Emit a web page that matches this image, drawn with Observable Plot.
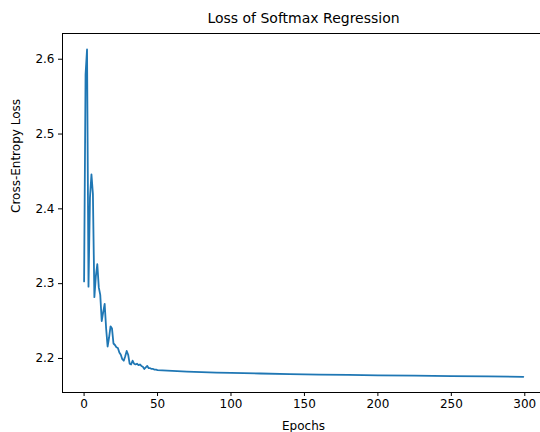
<!DOCTYPE html>
<html>
<head>
<meta charset="utf-8">
<script src="https://cdn.jsdelivr.net/npm/d3@7"></script>
<script src="https://cdn.jsdelivr.net/npm/@observablehq/plot@0.6"></script>
<style>
  html, body { margin: 0; padding: 0; background: #fff; }
  #chart svg { display: block; }
</style>
</head>
<body>
<div id="chart"></div>
<script>
const title = "Loss of Softmax Regression";
const xLabel = "Epochs";
const yLabel = "Cross-Entropy Loss";
const xTicks = [0, 50, 100, 150, 200, 250, 300];
const yTicks = [2.2, 2.3, 2.4, 2.5, 2.6];

const epochs = [
  0, 1, 2, 3, 4, 5, 6, 7, 8, 9,
  10, 11, 12, 13, 14, 15, 16, 17, 18, 19,
  20, 21, 22, 23, 24, 25, 26, 27, 28, 29,
  30, 31, 32, 33, 34, 35, 36, 37, 38, 39,
  40, 41, 42, 43, 44, 45, 46, 47, 48, 49,
  50, 60, 70, 80, 90, 100, 120, 140, 160, 180,
  200, 225, 250, 275, 299
];
const losses = [
  2.303, 2.580, 2.613, 2.296, 2.415, 2.446, 2.420, 2.282, 2.310, 2.326,
  2.295, 2.285, 2.250, 2.262, 2.273, 2.240, 2.216, 2.228, 2.243, 2.240,
  2.220, 2.218, 2.215, 2.214, 2.208, 2.205, 2.199, 2.197, 2.203, 2.210,
  2.205, 2.193, 2.192, 2.197, 2.193, 2.192, 2.193, 2.191, 2.192, 2.190,
  2.189, 2.186, 2.188, 2.190, 2.187, 2.187, 2.186, 2.186, 2.185, 2.185,
  2.1845, 2.1833, 2.1824, 2.1817, 2.1812, 2.1807, 2.1799, 2.1791, 2.1785, 2.1780,
  2.1775, 2.1770, 2.1765, 2.1760, 2.1755
];

const data = epochs.map((e, i) => ({epoch: e, loss: losses[i]}));

const xMin = -14.7, xMax = 310.7;
const yMin = 2.1545, yMax = 2.6344;
const font = "'DejaVu Sans', sans-serif";

const chart = Plot.plot({
  width: 540,
  height: 432,
  marginLeft: 62,
  marginRight: 0,
  marginTop: 33,
  marginBottom: 40,
  style: {fontFamily: font, fontSize: "12px", color: "#000", background: "#fff"},
  x: {domain: [xMin, xMax], axis: null},
  y: {domain: [yMin, yMax], axis: null},
  marks: [
    Plot.axisX({ticks: xTicks, tickSize: 4, tickPadding: 3, label: null, tickFormat: d => String(d), fontSize: 12, stroke: "#000"}),
    Plot.axisY({ticks: yTicks, tickSize: 4, tickPadding: 4, label: null, tickFormat: d => d.toFixed(1), fontSize: 12, stroke: "#000"}),
    Plot.ruleY([yMin], {stroke: "#000", strokeWidth: 1}),
    Plot.ruleY([yMax], {stroke: "#000", strokeWidth: 1}),
    Plot.ruleX([xMin], {stroke: "#000", strokeWidth: 1}),
    Plot.line(data, {x: "epoch", y: "loss", stroke: "#1f77b4", strokeWidth: 1.8, curve: "linear"}),
    Plot.text([title], {frameAnchor: "top", dy: -15, dx: 2, lineAnchor: "middle", fontSize: 14, fill: "#000"}),
    Plot.text([xLabel], {frameAnchor: "bottom", dy: 34, dx: 2, lineAnchor: "middle", fontSize: 12, fill: "#000"}),
    Plot.text([yLabel], {frameAnchor: "left", dx: -46, rotate: -90, lineAnchor: "middle", fontSize: 12, fill: "#000"})
  ]
});
document.getElementById("chart").appendChild(chart);
</script>
</body>
</html>
